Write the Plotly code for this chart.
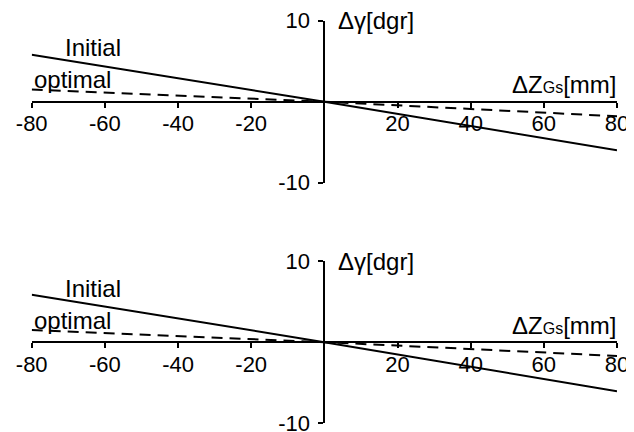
import plotly.graph_objects as go

# Data
dz = [-80, 0, 80]                      # ΔZGs [mm]
initial_top = [5.8, 0.0, -6.0]         # Δγ [dgr], initial
optimal_top = [1.5, 0.0, -1.8]         # Δγ [dgr], optimal
initial_bottom = [5.85, 0.0, -6.05]
optimal_bottom = [1.5, 0.0, -1.7]

x_ticks = [-80, -60, -40, -20, 20, 40, 60, 80]
y_ticks = [-10, 10]

FONT = "Liberation Sans, Arial, sans-serif"
TICK_SIZE = 22
LABEL_SIZE = 24

W, H = 626, 424   # page body has an 8px margin
xdom = [0.03786, 0.97284]
ydoms = [[0.5880, 0.9700], [0.0205, 0.4033]]
panel_shift = 241 / H

fig = go.Figure()

panels = [(initial_top, optimal_top), (initial_bottom, optimal_bottom)]
for i, (ini, opt) in enumerate(panels):
    xa = "x" if i == 0 else "x2"
    ya = "y" if i == 0 else "y2"
    fig.add_trace(go.Scatter(x=dz, y=ini, mode="lines", xaxis=xa, yaxis=ya,
                             line=dict(color="black", width=2), showlegend=False))
    fig.add_trace(go.Scatter(x=dz, y=opt, mode="lines", xaxis=xa, yaxis=ya,
                             line=dict(color="black", width=2, dash="11px,7px"),
                             showlegend=False))

def xaxis_cfg(dom_y):
    return dict(domain=xdom, range=[-80, 80], anchor="free",
                position=(dom_y[0] + dom_y[1]) / 2, automargin=False,
                showline=True, linecolor="black", linewidth=2,
                ticks="outside", ticklen=5, tickwidth=2, tickcolor="black",
                tickvals=x_ticks, ticktext=[str(v) for v in x_ticks],
                tickfont=dict(family=FONT, size=TICK_SIZE, color="black"),
                ticklabeloverflow="allow", ticklabelstandoff=-3,
                showgrid=False, zeroline=False, fixedrange=True)

def yaxis_cfg(dom_y):
    return dict(domain=dom_y, range=[-10, 10], anchor="free",
                position=(xdom[0] + xdom[1]) / 2, automargin=False,
                showline=True, linecolor="black", linewidth=2,
                ticks="outside", ticklen=5, tickwidth=2, tickcolor="black",
                tickvals=y_ticks, ticktext=[str(v) for v in y_ticks],
                tickfont=dict(family=FONT, size=TICK_SIZE, color="black"),
                ticklabeloverflow="allow", ticklabelstandoff=4,
                showgrid=False, zeroline=False, fixedrange=True)

fig.update_layout(
    width=W, height=H, autosize=False,
    margin=dict(l=0, r=0, t=0, b=0, autoexpand=False),
    paper_bgcolor="white", plot_bgcolor="white",
    xaxis=xaxis_cfg(ydoms[0]), yaxis=yaxis_cfg(ydoms[0]),
    xaxis2=xaxis_cfg(ydoms[1]), yaxis2=yaxis_cfg(ydoms[1]),
)

f = dict(family=FONT, size=LABEL_SIZE, color="black")
labels = [
    ("Δγ[dgr]", 0.5240, 0.9700, "left"),
    ('ΔZ<span style="font-size:16px">Gs</span>[mm]', 0.9744, 0.8184, "right"),
    ("Initial", 0.0879, 0.9080, "left"),
    ("optimal", 0.0383, 0.8302, "left"),
]
for i in range(2):
    for text, px, py, xa in labels:
        fig.add_annotation(x=px, y=py - i * panel_shift, xref="paper", yref="paper",
                           text=text, showarrow=False, xanchor=xa,
                           yanchor="middle", font=f)

fig.write_html("out.html")
